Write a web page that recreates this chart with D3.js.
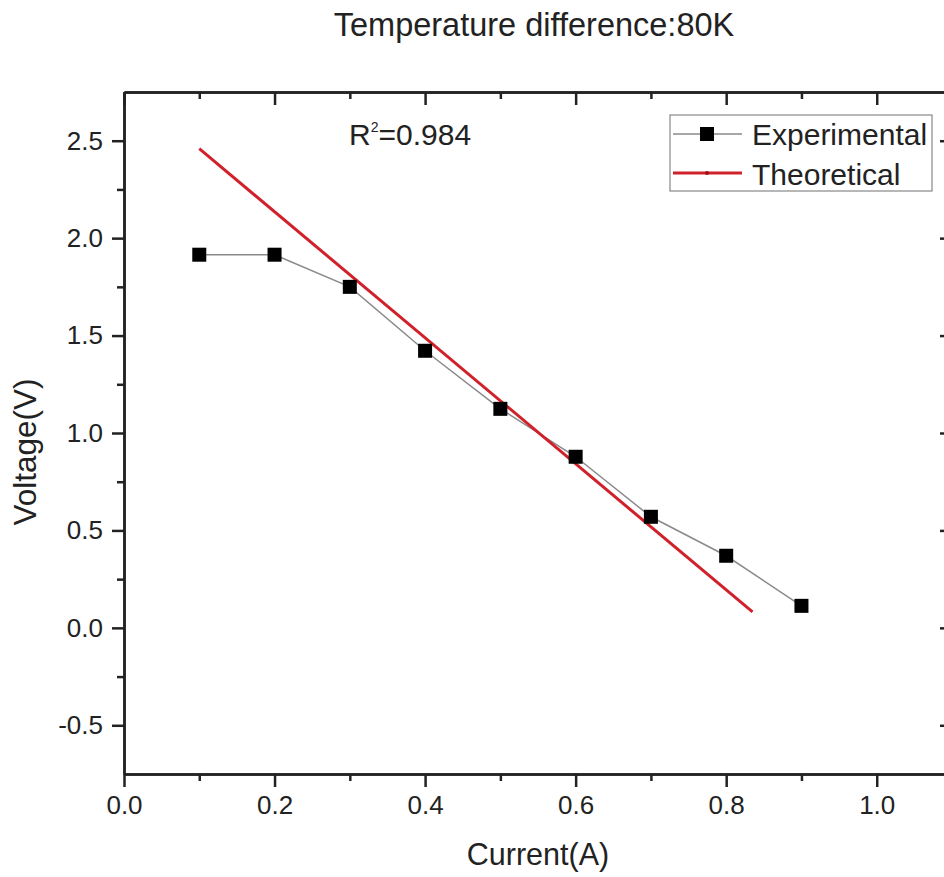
<!DOCTYPE html>
<html>
<head>
<meta charset="utf-8">
<script src="https://cdn.jsdelivr.net/npm/d3@7"></script>
<style>
  body { margin: 0; background: #fff; }
  svg text { font-family: "Liberation Sans", Arial, sans-serif; fill: #222; }
</style>
</head>
<body>
<div id="chart"></div>
<script>
// data
var currentExp = [0.1, 0.2, 0.3, 0.4, 0.5, 0.6, 0.7, 0.8, 0.9];
var voltageExp = [1.915, 1.915, 1.75, 1.422, 1.124, 0.878, 0.57, 0.37, 0.113];
var currentTheo = [0.1, 0.835];
var voltageTheo = [2.459, 0.082];
var xTicks = [0.0, 0.2, 0.4, 0.6, 0.8, 1.0];
var yTicks = [-0.5, 0.0, 0.5, 1.0, 1.5, 2.0, 2.5];
var seriesNames = ["Experimental", "Theoretical"];

var svgWidth = 944;
var svgHeight = 877;
var margin = { top: 92, right: -8, bottom: 103, left: 124 };
var width = svgWidth - margin.left - margin.right;
var height = svgHeight - margin.top - margin.bottom;

var svg = d3.select("#chart")
    .append("svg")
    .attr("width", svgWidth)
    .attr("height", svgHeight);

var chartGroup = svg.append("g")
    .attr("transform", `translate(${margin.left}, ${margin.top})`);

var xScale = d3.scaleLinear().domain([0, 1.1]).range([0, width]);
var yScale = d3.scaleLinear().domain([-0.75, 2.75]).range([height, 0]);

var minorX = d3.range(0.1, 1.1, 0.2);
var minorY = d3.range(-0.25, 2.75, 0.5);
var axisColor = "#222";
var fmt = d => d.toFixed(1);

function styleAxis(g) {
    g.select(".domain").attr("stroke", axisColor).attr("stroke-width", 2.5);
    g.selectAll(".tick line").attr("stroke", axisColor).attr("stroke-width", 2.5);
    g.selectAll("text").style("font-size", "26px").attr("fill", "#222");
}

// bottom axis (ticks outward)
chartGroup.append("g")
    .attr("transform", `translate(0, ${height})`)
    .call(d3.axisBottom(xScale).tickValues(xTicks).tickFormat(fmt)
        .tickSizeInner(13).tickSizeOuter(0).tickPadding(9))
    .call(styleAxis);
chartGroup.append("g")
    .attr("transform", `translate(0, ${height})`)
    .call(d3.axisBottom(xScale).tickValues(minorX).tickFormat("").tickSizeInner(7).tickSizeOuter(0))
    .call(styleAxis);

// left axis (ticks outward)
chartGroup.append("g")
    .call(d3.axisLeft(yScale).tickValues(yTicks).tickFormat(fmt)
        .tickSizeInner(12).tickSizeOuter(0).tickPadding(9))
    .call(styleAxis);
chartGroup.append("g")
    .call(d3.axisLeft(yScale).tickValues(minorY).tickFormat("").tickSizeInner(7).tickSizeOuter(0))
    .call(styleAxis);

// top axis (ticks inward)
chartGroup.append("g")
    .call(d3.axisTop(xScale).tickValues(xTicks).tickFormat("").tickSizeInner(-13).tickSizeOuter(0))
    .call(styleAxis);
chartGroup.append("g")
    .call(d3.axisTop(xScale).tickValues(minorX).tickFormat("").tickSizeInner(-7).tickSizeOuter(0))
    .call(styleAxis);

// right axis (ticks inward)
chartGroup.append("g")
    .attr("transform", `translate(${width}, 0)`)
    .call(d3.axisRight(yScale).tickValues(yTicks).tickFormat("").tickSizeInner(-12).tickSizeOuter(0))
    .call(styleAxis);
chartGroup.append("g")
    .attr("transform", `translate(${width}, 0)`)
    .call(d3.axisRight(yScale).tickValues(minorY).tickFormat("").tickSizeInner(-6).tickSizeOuter(0))
    .call(styleAxis);

// experimental line + squares
var expData = currentExp.map((c, i) => ({ x: c, y: voltageExp[i] }));
var theoData = currentTheo.map((c, i) => ({ x: c, y: voltageTheo[i] }));

var line = d3.line()
    .x(d => xScale(d.x))
    .y(d => yScale(d.y));

chartGroup.append("path")
    .datum(expData)
    .attr("d", line)
    .attr("fill", "none")
    .attr("stroke", "#8a8a8a")
    .attr("stroke-width", 1.5);

chartGroup.append("path")
    .datum(theoData)
    .attr("d", line)
    .attr("fill", "none")
    .attr("stroke", "#d0202a")
    .attr("stroke-width", 3);

var sq = 14;
chartGroup.selectAll(".pt")
    .data(expData)
    .enter()
    .append("rect")
    .attr("class", "pt")
    .attr("x", d => xScale(d.x) - sq / 2)
    .attr("y", d => yScale(d.y) - sq / 2)
    .attr("width", sq)
    .attr("height", sq)
    .attr("fill", "#000");

// R^2 annotation
var r2 = chartGroup.append("text")
    .attr("x", 349 - margin.left)
    .attr("y", 145 - margin.top)
    .style("font-size", "30px");
r2.append("tspan").text("R");
r2.append("tspan").attr("dy", -13).style("font-size", "14px").text("2");
r2.append("tspan").attr("dy", 13).text("=0.984");

// legend
var legend = svg.append("g").attr("transform", "translate(670, 115)");
legend.append("rect")
    .attr("width", 262)
    .attr("height", 76)
    .attr("fill", "#fff")
    .attr("stroke", "#888")
    .attr("stroke-width", 1.2);

legend.append("line")
    .attr("x1", 3).attr("x2", 72).attr("y1", 19).attr("y2", 19)
    .attr("stroke", "#8a8a8a").attr("stroke-width", 1.5);
legend.append("rect")
    .attr("x", 37 - sq / 2).attr("y", 19 - sq / 2)
    .attr("width", sq).attr("height", sq).attr("fill", "#000");

legend.append("line")
    .attr("x1", 3).attr("x2", 72).attr("y1", 58).attr("y2", 58)
    .attr("stroke", "#d0202a").attr("stroke-width", 3);
legend.append("circle")
    .attr("cx", 37).attr("cy", 58).attr("r", 2).attr("fill", "#a01018");

legend.selectAll(".lt")
    .data(seriesNames)
    .enter()
    .append("text")
    .attr("class", "lt")
    .attr("x", 82)
    .attr("y", (d, i) => 30 + i * 40)
    .style("font-size", "30px")
    .text(d => d);

// title and axis labels
svg.append("text")
    .attr("x", 534)
    .attr("y", 36)
    .attr("text-anchor", "middle")
    .style("font-size", "32.5px")
    .text("Temperature difference:80K");

svg.append("text")
    .attr("x", margin.left + width / 2)
    .attr("y", 865)
    .attr("text-anchor", "middle")
    .style("font-size", "30.5px")
    .text("Current(A)");

svg.append("text")
    .attr("transform", "translate(36, 452) rotate(-90)")
    .attr("text-anchor", "middle")
    .style("font-size", "31.5px")
    .text("Voltage(V)");
</script>
</body>
</html>
